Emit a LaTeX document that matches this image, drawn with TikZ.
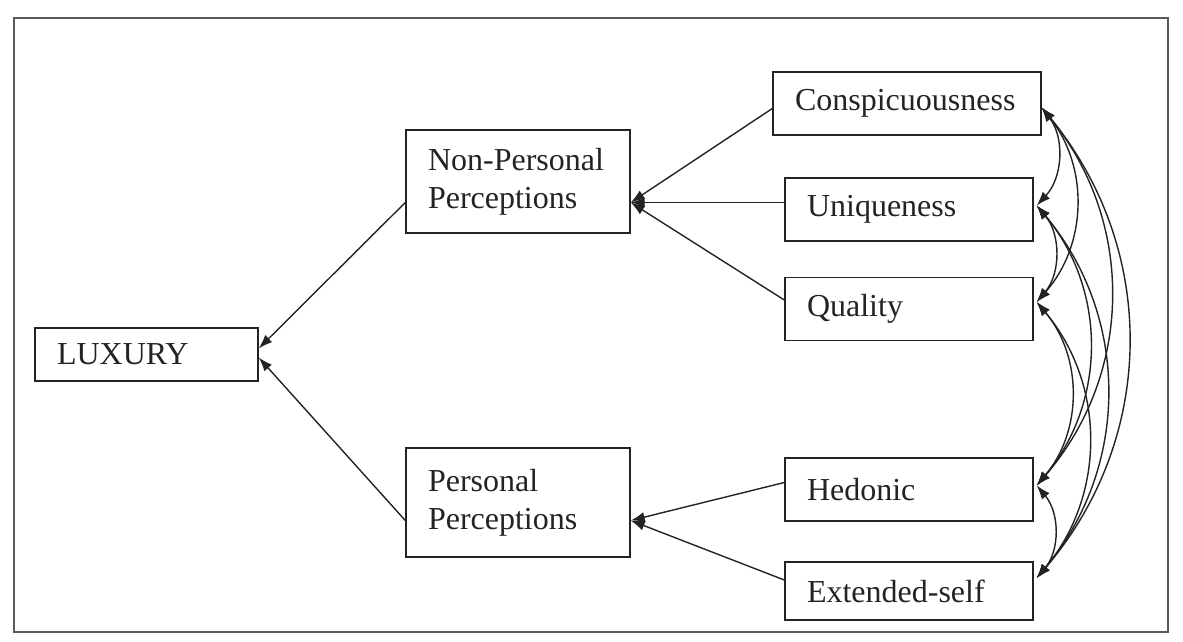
\documentclass[tikz,border=0pt]{standalone}
\usepackage{fontspec}
\setmainfont{Liberation Serif}
\usetikzlibrary{arrows.meta,positioning,calc}
\definecolor{ink}{RGB}{35,35,35}

\begin{document}
\begin{tikzpicture}[>={Latex[length=7pt,width=5pt]},x=0.5pt,y=-0.5pt,line width=.7pt,every node/.style={font=\fontsize{16}{19}\selectfont,text=ink}]
\tikzstyle{b}=[draw=ink,line width=.7pt,inner xsep=11pt,align=left,minimum height=31.5pt]
\useasboundingbox (0,0) rectangle (1183,642);
\draw[ink!75,line width=1pt] (14,18) rectangle (1168,632);
\node[b,text width=89.5pt,minimum height=26.5pt] (lux) at (146.5,354.5) {LUXURY};
\node[b,text width=90pt,minimum height=51.5pt] (npp) at (518,181.5) {Non-Personal\\Perceptions};
\node[b,text width=90pt,minimum height=54.5pt] (pp) at (518,502.5) {Personal\\Perceptions};
\node[b,text width=112pt] (con) at (907,103.5) {Conspicuousness};
\node[b,text width=102pt] (uni) at (909,209.5) {Uniqueness};
\node[b,text width=102pt] (qua) at (909,309) {Quality};
\node[b,text width=102pt] (hed) at (909,489.5) {Hedonic};
\node[b,text width=102pt,minimum height=29pt] (ext) at (909,591) {Extended-self};
\coordinate (npp-e) at ($(npp.east)+(0,21)$);
\coordinate (pp-e) at ($(pp.east)+(0,18)$);
\coordinate (con-r) at ($(con.east)+(0,4)$);
\coordinate (uni-r) at ($(uni.east)+(3,-4)$);
\coordinate (qua-r) at ($(qua.east)+(3,-7)$);
\coordinate (hed-r) at ($(hed.east)+(3,-4)$);
\coordinate (ext-r) at ($(ext.east)+(3,-13)$);
\draw[->,draw=ink] ([yshift=-10.5pt]npp.west)--([yshift=3pt]lux.east);
\draw[->,draw=ink] ([yshift=-9pt]pp.west)--([yshift=-1.5pt]lux.east);
\draw[->,draw=ink] ([yshift=-2.5pt]con.west)--(npp-e);\draw[->,draw=ink] ([yshift=3.5pt]uni.west)--(npp-e);
\draw[->,draw=ink] ([yshift=4.5pt]qua.west)--(npp-e);
\draw[->,draw=ink] ([yshift=3.5pt]hed.west)--(pp-e);\draw[->,draw=ink] ([yshift=5.5pt]ext.west)--(pp-e);
\foreach \a/\c in {con/uni,con/qua,con/hed,con/ext,uni/qua,uni/hed,uni/ext,qua/hed,qua/ext,hed/ext}
  \draw[<->,draw=ink] (\a-r) to[bend left=40] (\c-r);
\end{tikzpicture}
\end{document}
